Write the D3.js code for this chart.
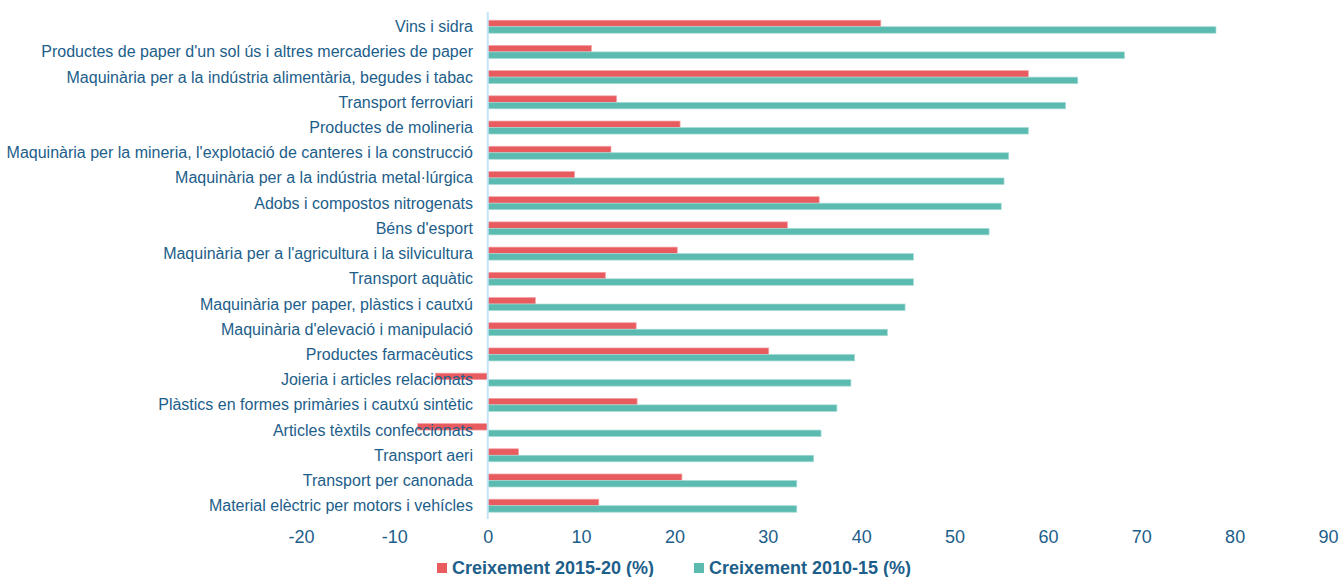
<!DOCTYPE html>
<html><head><meta charset="utf-8">
<script src="https://cdn.jsdelivr.net/npm/d3@7"></script>
<style>body{margin:0;background:#fff}svg{display:block}</style>
</head><body><svg id="c" width="1341" height="577"></svg>
<script>
const categories = ["Vins i sidra","Productes de paper d'un sol ús i altres mercaderies de paper","Maquinària per a la indústria alimentària, begudes i tabac","Transport ferroviari","Productes de molineria","Maquinària per la mineria, l'explotació de canteres i la construcció","Maquinària per a la indústria metal·lúrgica","Adobs i compostos nitrogenats","Béns d'esport","Maquinària per a l'agricultura i la silvicultura","Transport aquàtic","Maquinària per paper, plàstics i cautxú","Maquinària d'elevació i manipulació","Productes farmacèutics","Joieria i articles relacionats","Plàstics en formes primàries i cautxú sintètic","Articles tèxtils confeccionats","Transport aeri","Transport per canonada","Material elèctric per motors i vehícles"];
const growth1520 = [42.1,11.1,57.9,13.8,20.6,13.2,9.3,35.5,32.1,20.3,12.6,5.1,15.9,30.1,-5.6,16.0,-7.5,3.3,20.8,11.9];
const growth1015 = [78.0,68.2,63.2,61.9,57.9,55.8,55.3,55.0,53.7,45.6,45.6,44.7,42.8,39.3,38.9,37.4,35.7,34.9,33.1,33.1];
const xTicks = [-20,-10,0,10,20,30,40,50,60,70,80,90];
const seriesNames = ["Creixement 2015-20 (%)","Creixement 2010-15 (%)"];
const colors = ["#e85c60","#5bbbb1"];
const strokes = ["#f3a3a5","#a5dbd5"];

const svg = d3.select("#c");
const x = d3.scaleLinear().domain([-20,90]).range([301,1328]);
const y = d3.scaleBand().domain(categories).range([14.1,518.3]).padding(0);
const ySub = d3.scaleBand().domain([0,1]).range([0,y.bandwidth()]).paddingOuter(0.94).paddingInner(0);
const textColor = "#1d5e8a";
const font = "'Liberation Sans', Arial, sans-serif";

const data = categories.map((c,i)=>({c, v:[growth1520[i],growth1015[i]]}));
const g = svg.append("g");
data.forEach(d=>{
  d.v.forEach((v,k)=>{
    g.append("rect")
      .attr("x", x(Math.min(0,v)))
      .attr("width", Math.abs(x(v)-x(0)))
      .attr("y", y(d.c)+ySub(k))
      .attr("height", ySub.bandwidth())
      .attr("fill", colors[k])
      .attr("stroke", strokes[k]).attr("stroke-width",0.7);
  });
});

// category labels
svg.append("g").selectAll("text").data(categories).join("text")
  .attr("x", 473).attr("y", d=>y(d)+y.bandwidth()/2)
  .attr("text-anchor","end").attr("dominant-baseline","central")
  .attr("font-family",font).attr("font-size",16).attr("fill",textColor)
  .text(d=>d);

// zero axis line
svg.append("line").attr("x1",x(0)).attr("x2",x(0)).attr("y1",12).attr("y2",519)
  .attr("stroke","#c3e4f5").attr("stroke-width",2);

// x axis tick labels
const xa = d3.axisBottom(x).tickValues(xTicks).tickSize(0).tickPadding(0).tickFormat(d=>String(d));
const axG = svg.append("g").attr("transform","translate(0,530)").call(xa);
axG.select(".domain").remove();
axG.selectAll("text").attr("font-family",font).attr("font-size",18).attr("fill",textColor);

// legend
const leg = svg.append("g").attr("transform","translate(0,568)");
const legX = [437,694];
seriesNames.forEach((n,k)=>{
  leg.append("rect").attr("x",legX[k]).attr("y",-5).attr("width",10).attr("height",10).attr("fill",colors[k]);
  leg.append("text").attr("x",legX[k]+15).attr("y",0).attr("dominant-baseline","central")
    .attr("font-family",font).attr("font-size",18).attr("font-weight","bold").attr("fill",textColor).text(n);
});
</script></body></html>
